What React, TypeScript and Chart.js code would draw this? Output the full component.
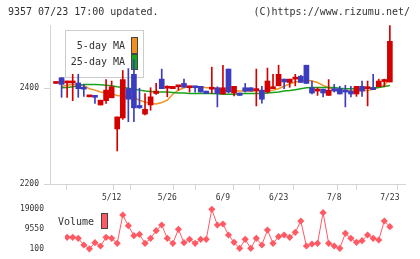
import React, { useEffect, useRef } from 'react';
import { Chart, registerables } from 'chart.js';

Chart.register(...registerables);

// ---------- data ----------
const headerLeft = '9357 07/23 17:00 updated.';
const headerRight = '(C)https://www.rizumu.net/';
const dateLabels = ['5/12', '5/26', '6/9', '6/23', '7/8', '7/23'];
const dateLabelIndex = [10, 20, 30, 40, 50, 60];
const priceTicks = [2200, 2400];
const volumeTicks = [100, 9550, 19000];

const opens = [2410, 2422, 2411, 2411, 2411, 2402, 2382, 2383, 2365, 2374, 2380, 2315, 2338, 2399, 2429, 2364, 2346, 2365, 2389, 2419, 2400, 2399, 2403, 2410, 2401, 2404, 2404, 2394, 2398, 2401, 2388, 2440, 2390, 2390, 2401, 2401, 2395, 2396, 2392, 2399, 2405, 2419, 2412, 2419, 2425, 2448, 2401, 2394, 2398, 2385, 2399, 2399, 2396, 2394, 2388, 2404, 2399, 2401, 2403, 2414, 2413];
const highs = [2410, 2422, 2415, 2429, 2429, 2408, 2382, 2385, 2375, 2418, 2415, 2340, 2437, 2441, 2460, 2400, 2389, 2401, 2410, 2440, 2405, 2404, 2403, 2419, 2404, 2404, 2404, 2394, 2444, 2403, 2448, 2440, 2404, 2390, 2410, 2401, 2440, 2404, 2442, 2429, 2448, 2419, 2419, 2429, 2427, 2448, 2415, 2401, 2398, 2418, 2408, 2404, 2406, 2404, 2404, 2415, 2415, 2429, 2419, 2419, 2531];
const lows = [2410, 2381, 2381, 2374, 2381, 2383, 2382, 2368, 2365, 2368, 2380, 2269, 2335, 2330, 2330, 2358, 2344, 2354, 2387, 2399, 2382, 2399, 2396, 2402, 2392, 2392, 2392, 2389, 2389, 2361, 2388, 2390, 2384, 2385, 2392, 2394, 2363, 2369, 2390, 2399, 2405, 2399, 2402, 2405, 2412, 2410, 2388, 2385, 2382, 2385, 2392, 2388, 2361, 2382, 2383, 2383, 2363, 2397, 2403, 2403, 2413];
const closes = [2410, 2408, 2411, 2411, 2399, 2398, 2382, 2381, 2375, 2396, 2403, 2340, 2418, 2377, 2359, 2359, 2356, 2382, 2394, 2399, 2401, 2404, 2403, 2402, 2404, 2401, 2392, 2389, 2398, 2389, 2401, 2392, 2404, 2385, 2394, 2394, 2396, 2377, 2415, 2399, 2429, 2413, 2419, 2419, 2412, 2410, 2390, 2398, 2390, 2396, 2394, 2388, 2392, 2388, 2404, 2394, 2399, 2397, 2415, 2414, 2498];
const ma5 = [null, 2403, 2406, 2408, 2408, 2405, 2399, 2396, 2392, 2390, 2388, 2385, 2383, 2382, 2381, 2375, 2371, 2368, 2367, 2370, 2375, 2388, 2396, 2401, 2403, 2403, 2403, 2401, 2401, 2398, 2395, 2394, 2394, 2394, 2394, 2394, 2394, 2394, 2394, 2396, 2399, 2404, 2409, 2413, 2415, 2417, 2415, 2412, 2406, 2401, 2398, 2396, 2395, 2394, 2394, 2395, 2395, 2398, 2402, 2406, 2420];
const ma25 = [null, 2401, 2401.5, 2403, 2405, 2408, 2408, 2408, 2407, 2406, 2405, 2403, 2401.5, 2400, 2398, 2396, 2394, 2393, 2392, 2392, 2392, 2391, 2390, 2390, 2389, 2389, 2389, 2389, 2389, 2388.5, 2387.5, 2387.5, 2387.5, 2388.5, 2389, 2389, 2389, 2389, 2390, 2391, 2392, 2394, 2395, 2397, 2399, 2401, 2401.5, 2401.5, 2401.5, 2401.5, 2401.5, 2400, 2399, 2399, 2399, 2399, 2400, 2401, 2401.5, 2403.5, 2405.5];
const volumes = [null, null, 5570, 5570, 5100, 1980, 200, 3070, 1510, 5570, 5100, 2760, 16050, 11040, 6350, 6980, 2760, 5100, 8700, 11360, 5100, 2760, 9320, 3070, 4630, 2760, 4630, 4630, 18700, 11360, 11830, 6670, 3230, 410, 4630, 410, 5100, 1980, 9010, 2760, 5880, 6670, 5570, 7920, 13230, 1510, 2450, 2760, 17140, 2760, 1510, 410, 7450, 5100, 3230, 4010, 6670, 5100, 4320, 13230, 10580];

// ---------- styles ----------
const FONT = "'DejaVu Sans Mono', 'Liberation Mono', monospace";
const UP = '#d40000';
const DOWN = '#3c3cbe';
const MA5_COLOR = '#f0901e';
const MA25_COLOR = '#16a516';
const VOL_COLOR = '#ff5a64';
const AXIS = '#d4d4d4';
const TEXT = '#333333';

const mainDecor = {
  id: 'mainDecor',
  beforeDatasetsDraw(chart: any) {
    const ctx = chart.ctx;
    ctx.save();
    ctx.fillStyle = '#ffffff';
    ctx.fillRect(65.5, 30.5, 78, 47);
    ctx.strokeStyle = '#cccccc';
    ctx.lineWidth = 1;
    ctx.strokeRect(65.5, 30.5, 78, 47);
    ctx.font = `10px ${FONT}`;
    ctx.fillStyle = TEXT;
    ctx.textAlign = 'right';
    ctx.textBaseline = 'middle';
    ctx.fillText('5-day MA', 125, 46);
    ctx.fillText('25-day MA', 125, 62.5);
    ctx.strokeStyle = '#444444';
    ctx.fillStyle = MA5_COLOR;
    ctx.fillRect(131.5, 37.5, 6, 16);
    ctx.strokeRect(131.5, 37.5, 6, 16);
    ctx.fillStyle = MA25_COLOR;
    ctx.fillRect(131.5, 54.5, 6, 15);
    ctx.strokeRect(131.5, 54.5, 6, 15);
    ctx.restore();
  },
  afterDraw(chart: any) {
    const ctx = chart.ctx;
    ctx.save();
    ctx.font = `10px ${FONT}`;
    ctx.fillStyle = TEXT;
    ctx.textBaseline = 'middle';
    ctx.textAlign = 'left';
    ctx.fillText(headerLeft, 8, 12.5);
    ctx.textAlign = 'right';
    ctx.fillText(headerRight, 410, 12.5);
    ctx.restore();
  },
};

const volDecor = {
  id: 'volDecor',
  afterDraw(chart: any) {
    const ctx = chart.ctx;
    ctx.save();
    ctx.font = `10px ${FONT}`;
    ctx.fillStyle = TEXT;
    ctx.textBaseline = 'middle';
    ctx.textAlign = 'left';
    ctx.fillText('Volume', 58, 22);
    ctx.fillStyle = VOL_COLOR;
    ctx.strokeStyle = '#444444';
    ctx.lineWidth = 1;
    ctx.fillRect(101.5, 13.5, 6, 15);
    ctx.strokeRect(101.5, 13.5, 6, 15);
    ctx.restore();
  },
};

export default function App() {
  const mainRef = useRef<HTMLCanvasElement>(null);
  const volRef = useRef<HTMLCanvasElement>(null);

  useEffect(() => {
    const idx = closes.map((_, i) => i);
    const colors = idx.map((i) => (closes[i] >= opens[i] ? UP : DOWN));
    const X_MIN = -1.08;
    const X_MAX = 62.72;

    const main = new Chart(mainRef.current as HTMLCanvasElement, {
      type: 'bar',
      data: {
        datasets: [
          {
            type: 'line',
            label: '5-day MA',
            data: idx.map((i) => ({ x: i, y: ma5[i] })),
            borderColor: MA5_COLOR,
            borderWidth: 1.5,
            pointRadius: 0,
            order: 4,
          } as any,
          {
            type: 'line',
            label: '25-day MA',
            data: idx.map((i) => ({ x: i, y: ma25[i] })),
            borderColor: MA25_COLOR,
            borderWidth: 1.5,
            pointRadius: 0,
            order: 3,
          } as any,
          {
            type: 'bar',
            label: 'wick',
            data: idx.map((i) => ({ x: i, y: [lows[i], highs[i]] })),
            backgroundColor: colors,
            barThickness: 1,
            grouped: false,
            order: 2,
          } as any,
          {
            type: 'bar',
            label: 'body',
            data: idx.map((i) => ({ x: i, y: [Math.min(opens[i], closes[i]), Math.max(opens[i], closes[i])] })),
            backgroundColor: colors,
            barThickness: 5,
            minBarLength: 2,
            grouped: false,
            order: 1,
          } as any,
        ],
      },
      options: {
        responsive: false,
        animation: false,
        layout: { padding: { top: 25, right: 15, left: 0, bottom: 0 } },
        plugins: { legend: { display: false }, tooltip: { enabled: false } },
        scales: {
          x: {
            type: 'linear',
            min: X_MIN,
            max: X_MAX,
            offset: false,
            afterBuildTicks: (scale: any) => {
              const mn = scale.min;
              const mx = scale.max;
              const marks = Array.from({ length: 12 }, (_, k) => ({ value: mn + ((mx - mn) * k) / 11, mark: true }));
              const labs = dateLabelIndex.map((v, k) => ({ value: v, text: dateLabels[k] }));
              scale.ticks = [...marks, ...labs].sort((a: any, b: any) => a.value - b.value);
            },
            afterFit: (scale: any) => {
              scale.height = 21;
            },
            grid: {
              drawOnChartArea: false,
              tickLength: 6,
              color: (c: any) => (c.tick && c.tick.mark ? AXIS : 'rgba(0,0,0,0)'),
            },
            border: { color: AXIS },
            ticks: {
              autoSkip: false,
              maxRotation: 0,
              padding: 3,
              color: TEXT,
              font: { family: FONT, size: 8 },
              callback: (_v: any, i: number, ticks: any[]) => (ticks[i] && ticks[i].text) || '',
            },
          },
          y: {
            type: 'linear',
            min: 2200,
            max: 2532,
            afterBuildTicks: (scale: any) => {
              scale.ticks = priceTicks.map((v) => ({ value: v }));
            },
            afterFit: (scale: any) => {
              scale.width = 50;
            },
            grid: { drawOnChartArea: false, tickLength: 6, color: AXIS },
            border: { color: AXIS },
            ticks: { padding: 5, color: TEXT, font: { family: FONT, size: 8 }, callback: (v: any) => String(v) },
          },
        },
      } as any,
      plugins: [mainDecor],
    });

    const vol = new Chart(volRef.current as HTMLCanvasElement, {
      type: 'line',
      data: {
        datasets: [
          {
            label: 'Volume',
            data: idx.map((i) => ({ x: i, y: volumes[i] })),
            borderColor: VOL_COLOR,
            backgroundColor: VOL_COLOR,
            borderWidth: 1,
            pointStyle: 'rectRot',
            pointRadius: 3.6,
            pointBorderWidth: 0,
            clip: { left: 0, top: 6, right: 6, bottom: 6 },
          } as any,
        ],
      },
      options: {
        responsive: false,
        animation: false,
        layout: { padding: { top: 8.7, right: 15, left: 0, bottom: 10 }, autoPadding: false },
        plugins: { legend: { display: false }, tooltip: { enabled: false } },
        scales: {
          x: { type: 'linear', min: 1.617, max: X_MAX, display: false },
          y: {
            type: 'linear',
            min: 100,
            max: 19000,
            afterBuildTicks: (scale: any) => {
              scale.ticks = volumeTicks.map((v) => ({ value: v }));
            },
            afterFit: (scale: any) => {
              scale.width = 65;
              scale.paddingTop = 0;
              scale.paddingBottom = 0;
            },
            grid: { display: false, drawTicks: true, tickLength: 21 },
            border: { display: false },
            ticks: { padding: 0, color: TEXT, font: { family: FONT, size: 8 }, callback: (v: any) => String(v) },
          },
        },
      } as any,
      plugins: [volDecor],
    });

    return () => {
      main.destroy();
      vol.destroy();
    };
  }, []);

  return (
    <div style={{ position: 'fixed', left: 0, top: 0, width: 420, height: 259, background: '#fff', overflow: 'hidden' }}>
      <canvas ref={mainRef} width={420} height={205} style={{ position: 'absolute', left: 0, top: 0, width: 420, height: 205 }} />
      <canvas ref={volRef} width={420} height={59} style={{ position: 'absolute', left: 0, top: 200, width: 420, height: 59 }} />
    </div>
  );
}
